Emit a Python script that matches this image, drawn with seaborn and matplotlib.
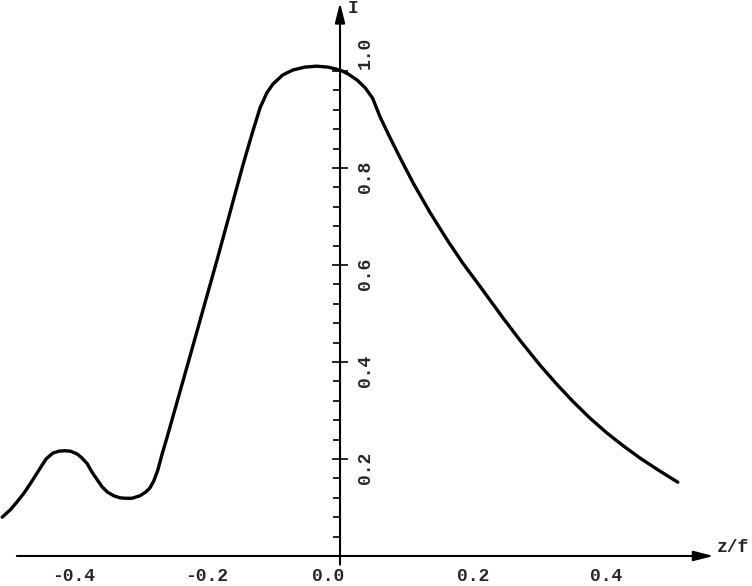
import numpy as np
import pandas as pd
import matplotlib
matplotlib.use("Agg")
import matplotlib.pyplot as plt
from matplotlib.transforms import offset_copy
import seaborn as sns

# curve (z/f, I)
z = [-0.508, -0.496, -0.486, -0.474, -0.462, -0.451, -0.442, -0.432, -0.423,
     -0.414, -0.405, -0.395, -0.388, -0.380, -0.373, -0.365, -0.358, -0.350,
     -0.340, -0.331, -0.323, -0.313, -0.301, -0.292, -0.286, -0.280, -0.274,
     -0.268, -0.260, -0.226, -0.185, -0.146, -0.132, -0.120, -0.110, -0.101,
     -0.086, -0.071, -0.053, -0.035, -0.018, 0.000, 0.012, 0.026, 0.038,
     0.049, 0.060, 0.075, 0.090, 0.110, 0.135, 0.161, 0.185, 0.211, 0.245,
     0.271, 0.301, 0.326, 0.350, 0.376, 0.401, 0.426, 0.451, 0.481, 0.508]
I = [0.080, 0.095, 0.111, 0.132, 0.157, 0.181, 0.200, 0.212, 0.216,
     0.217, 0.216, 0.210, 0.202, 0.190, 0.173, 0.157, 0.143, 0.132,
     0.124, 0.120, 0.119, 0.119, 0.124, 0.132, 0.140, 0.155, 0.177,
     0.208, 0.245, 0.410, 0.610, 0.806, 0.872, 0.925, 0.955, 0.973,
     0.992, 1.002, 1.008, 1.010, 1.008, 1.002, 0.994, 0.981, 0.965,
     0.944, 0.906, 0.863, 0.822, 0.769, 0.709, 0.652, 0.603, 0.555, 0.491,
     0.444, 0.393, 0.354, 0.319, 0.284, 0.254, 0.227, 0.202, 0.175, 0.152]

x_major = [-0.4, -0.2, 0.0, 0.2, 0.4]
x_labels = ["-0.4", "-0.2", "0.0", "0.2", "0.4"]
y_major = [0.2, 0.4, 0.6, 0.8, 1.0]
y_labels = ["0.2", "0.4", "0.6", "0.8", "1.0"]

x_minor = [t for t in np.round(np.arange(-0.44, 0.49, 0.04), 2) if t not in x_major]
y_minor = [t for t in np.round(np.arange(0.04, 0.97, 0.04), 2) if t not in y_major]

df = pd.DataFrame({"z/f": z, "I": I})

sns.set_style("white")
plt.rcParams["font.family"] = ["Liberation Mono", "DejaVu Sans Mono"]

fig = plt.figure(figsize=(7.52, 5.86), dpi=100)
ax = fig.add_axes([0, 0, 1, 1])
ax.set_xlim(-0.5113, 0.6195)
ax.set_ylim(-0.0619, 1.1464)

sns.lineplot(data=df, x="z/f", y="I", ax=ax, color="black", lw=2.4,
             sort=False, estimator=None, solid_joinstyle="round",
             solid_capstyle="round")

# axes through the origin
for s in ax.spines.values():
    s.set_visible(False)
ax.spines["bottom"].set_position(("data", 0))
ax.spines["right"].set_position(("data", 0))
ax.yaxis.tick_right()
ax.set_xlabel("")
ax.set_ylabel("")

ax.set_xticks(x_major)
ax.set_xticks(x_minor, minor=True)
ax.set_yticks(y_major)
ax.set_yticks(y_minor, minor=True)
ax.tick_params(axis="x", which="major", direction="inout", length=11, width=1.4,
               labelbottom=False)
ax.tick_params(axis="x", which="minor", direction="out", length=5, width=1.4)
ax.tick_params(axis="y", which="major", direction="inout", length=11, width=1.4,
               labelright=False)
ax.tick_params(axis="y", which="minor", direction="in", length=5, width=1.4)

arrow = dict(arrowstyle="-|>,head_length=1.2,head_width=0.3", color="black",
             lw=1.5, shrinkA=0, shrinkB=0)
ax.annotate("", xy=(0.562, 0), xytext=(-0.486, 0), arrowprops=arrow)
ax.annotate("", xy=(0, 1.141), xytext=(0, -0.018), arrowprops=arrow)

# tick labels
for x, lab in zip(x_major, x_labels):
    dx = -12 if x == 0 else 0
    tr = offset_copy(ax.transData, fig=fig, x=dx, y=-21, units="dots")
    ax.text(x, 0, lab, transform=tr, ha="center", va="center", fontsize=13,
            fontweight="bold")
for y, lab in zip(y_major, y_labels):
    dy = 18 if y == 1.0 else -9
    tr = offset_copy(ax.transData, fig=fig, x=25, y=dy, units="dots")
    ax.text(0, y, lab, transform=tr, ha="center", va="center", rotation=90,
            fontsize=13, fontweight="bold")

ax.text(0.567, 0, "z/f", transform=offset_copy(ax.transData, fig=fig, x=0, y=8, units="dots"),
        ha="left", va="center", fontsize=13, fontweight="bold")
ax.text(0, 1.141, "I", transform=offset_copy(ax.transData, fig=fig, x=8, y=-6, units="dots"),
        ha="left", va="center", fontsize=13, fontweight="bold")

fig.savefig("out.png", dpi=100, facecolor="white")
